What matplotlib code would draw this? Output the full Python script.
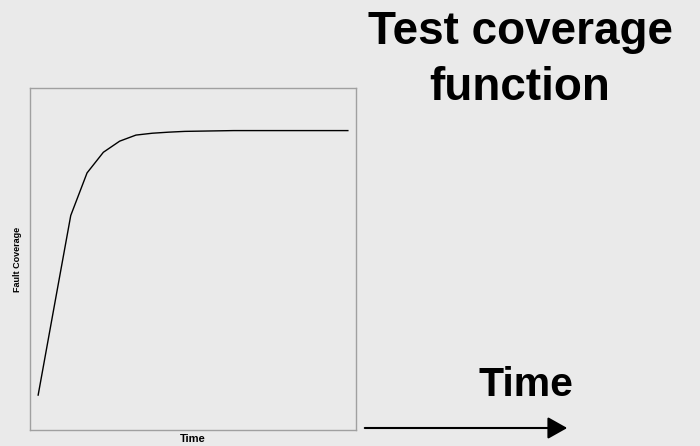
import numpy as np
import matplotlib.pyplot as plt

plt.rcParams['font.family'] = ['Liberation Sans', 'DejaVu Sans']

# coverage values (fraction of final plateau)
time_steps = list(range(20))
coverage = [0.0, 0.34, 0.679, 0.84, 0.918, 0.96, 0.983, 0.99, 0.994, 0.997,
            0.998, 0.999, 1.0, 1.0, 1.0, 1.0, 1.0, 1.0, 1.0, 1.0]

bg = '#eaeaea'
fig = plt.figure(figsize=(7, 4.46), dpi=100, facecolor=bg)
ax = fig.add_axes([30 / 700, 16 / 446, 326 / 700, 342 / 446])
ax.set_facecolor(bg)
ax.plot(time_steps, coverage, color='black', lw=1.0)
ax.set_xlim(-0.5, 19.5)
ax.set_ylim(-0.132, 1.161)
ax.set_xticks([])
ax.set_yticks([])
for s in ax.spines.values():
    s.set_color('#a0a0a0')
    s.set_linewidth(1.0)

ax.set_xlabel('Time', fontsize=8, fontweight='bold', labelpad=3)
ax.set_ylabel('Fault Coverage', fontsize=6.5, fontweight='bold', labelpad=6)

# big labels on the right
fig.text(520 / 700, 1 - 100 / 446, 'Test coverage\nfunction', ha='center', va='baseline',
         fontsize=33, fontweight='bold', linespacing=1.36)
fig.text(526 / 700, 1 - 396 / 446, 'Time', ha='center', va='baseline',
         fontsize=29.5, fontweight='bold')

fig.patches.append(plt.matplotlib.patches.FancyArrowPatch(
    (362 / 700, 1 - 428 / 446), (570 / 700, 1 - 428 / 446),
    transform=fig.transFigure, arrowstyle='-|>,head_length=8,head_width=4.5',
    color='black', lw=1.5, mutation_scale=1.5))

plt.savefig('out.png', dpi=100, facecolor=bg)
